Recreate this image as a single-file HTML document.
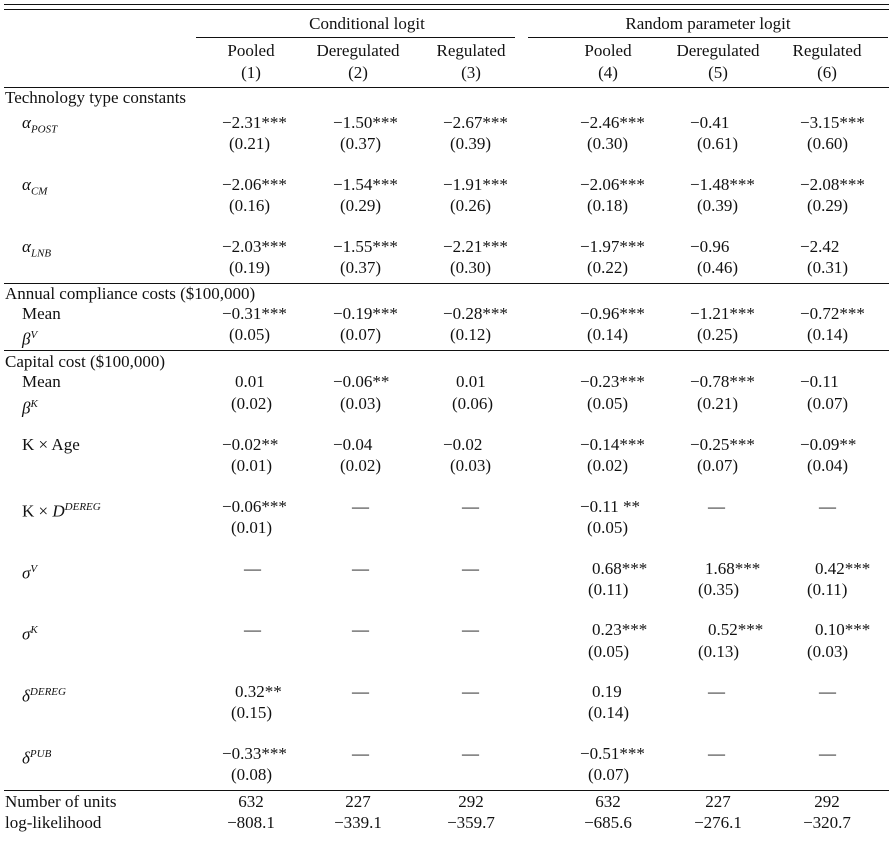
<!DOCTYPE html>
<html><head><meta charset="utf-8"><style>
body{margin:0;width:892px;height:843px;background:#fff;position:relative;overflow:hidden;font-family:"Liberation Serif",serif;font-size:17px;color:#111}
div{position:absolute;white-space:nowrap;line-height:20px}
.r{position:absolute;height:1px;background:#111}
sub,sup{font-size:11px;font-style:italic}
i{font-style:italic}
.c{text-align:center;width:120px}
</style></head><body>
<div class="r" style="left:4px;top:4px;width:885px"></div>
<div class="r" style="left:4px;top:9px;width:885px"></div>
<div class="c" style="left:307px;top:14px;width:120px">Conditional logit</div>
<div class="c" style="left:598px;top:14px;width:220px">Random parameter logit</div>
<div class="r" style="left:196px;top:37px;width:319px"></div>
<div class="r" style="left:528px;top:37px;width:360px"></div>
<div class="c" style="left:191px;top:41px">Pooled</div><div class="c" style="left:191px;top:63px">(1)</div>
<div class="c" style="left:298px;top:41px">Deregulated</div><div class="c" style="left:298px;top:63px">(2)</div>
<div class="c" style="left:411px;top:41px">Regulated</div><div class="c" style="left:411px;top:63px">(3)</div>
<div class="c" style="left:548px;top:41px">Pooled</div><div class="c" style="left:548px;top:63px">(4)</div>
<div class="c" style="left:658px;top:41px">Deregulated</div><div class="c" style="left:658px;top:63px">(5)</div>
<div class="c" style="left:767px;top:41px">Regulated</div><div class="c" style="left:767px;top:63px">(6)</div>
<div class="r" style="left:4px;top:87px;width:885px"></div>

<div style="left:5px;top:88px">Technology type constants</div>
<div style="left:22px;top:113px"><i>α</i><sub>POST</sub></div>
<div style="left:222px;top:113px">−2.31***</div><div style="left:229px;top:134px">(0.21)</div>
<div style="left:333px;top:113px">−1.50***</div><div style="left:340px;top:134px">(0.37)</div>
<div style="left:443px;top:113px">−2.67***</div><div style="left:450px;top:134px">(0.39)</div>
<div style="left:580px;top:113px">−2.46***</div><div style="left:587px;top:134px">(0.30)</div>
<div style="left:690px;top:113px">−0.41</div><div style="left:697px;top:134px">(0.61)</div>
<div style="left:800px;top:113px">−3.15***</div><div style="left:807px;top:134px">(0.60)</div>

<div style="left:22px;top:175px"><i>α</i><sub>CM</sub></div>
<div style="left:222px;top:175px">−2.06***</div><div style="left:229px;top:196px">(0.16)</div>
<div style="left:333px;top:175px">−1.54***</div><div style="left:340px;top:196px">(0.29)</div>
<div style="left:443px;top:175px">−1.91***</div><div style="left:450px;top:196px">(0.26)</div>
<div style="left:580px;top:175px">−2.06***</div><div style="left:587px;top:196px">(0.18)</div>
<div style="left:690px;top:175px">−1.48***</div><div style="left:697px;top:196px">(0.39)</div>
<div style="left:800px;top:175px">−2.08***</div><div style="left:807px;top:196px">(0.29)</div>

<div style="left:22px;top:237px"><i>α</i><sub>LNB</sub></div>
<div style="left:222px;top:237px">−2.03***</div><div style="left:229px;top:258px">(0.19)</div>
<div style="left:333px;top:237px">−1.55***</div><div style="left:340px;top:258px">(0.37)</div>
<div style="left:443px;top:237px">−2.21***</div><div style="left:450px;top:258px">(0.30)</div>
<div style="left:580px;top:237px">−1.97***</div><div style="left:587px;top:258px">(0.22)</div>
<div style="left:690px;top:237px">−0.96</div><div style="left:697px;top:258px">(0.46)</div>
<div style="left:800px;top:237px">−2.42</div><div style="left:807px;top:258px">(0.31)</div>
<div class="r" style="left:4px;top:283px;width:885px"></div>

<div style="left:5px;top:284px">Annual compliance costs ($100,000)</div>
<div style="left:22px;top:304px">Mean</div>
<div style="left:22px;top:325px"><i>β</i><sup>V</sup></div>
<div style="left:222px;top:304px">−0.31***</div><div style="left:229px;top:325px">(0.05)</div>
<div style="left:333px;top:304px">−0.19***</div><div style="left:340px;top:325px">(0.07)</div>
<div style="left:443px;top:304px">−0.28***</div><div style="left:450px;top:325px">(0.12)</div>
<div style="left:580px;top:304px">−0.96***</div><div style="left:587px;top:325px">(0.14)</div>
<div style="left:690px;top:304px">−1.21***</div><div style="left:697px;top:325px">(0.25)</div>
<div style="left:800px;top:304px">−0.72***</div><div style="left:807px;top:325px">(0.14)</div>
<div class="r" style="left:4px;top:350px;width:885px"></div>

<div style="left:5px;top:352px">Capital cost ($100,000)</div>
<div style="left:22px;top:372px">Mean</div>
<div style="left:22px;top:394px"><i>β</i><sup>K</sup></div>
<div style="left:235px;top:372px">0.01</div><div style="left:231px;top:394px">(0.02)</div>
<div style="left:333px;top:372px">−0.06**</div><div style="left:340px;top:394px">(0.03)</div>
<div style="left:456px;top:372px">0.01</div><div style="left:452px;top:394px">(0.06)</div>
<div style="left:580px;top:372px">−0.23***</div><div style="left:587px;top:394px">(0.05)</div>
<div style="left:690px;top:372px">−0.78***</div><div style="left:697px;top:394px">(0.21)</div>
<div style="left:800px;top:372px">−0.11</div><div style="left:807px;top:394px">(0.07)</div>

<div style="left:22px;top:435px">K × Age</div>
<div style="left:222px;top:435px">−0.02**</div><div style="left:231px;top:456px">(0.01)</div>
<div style="left:333px;top:435px">−0.04</div><div style="left:340px;top:456px">(0.02)</div>
<div style="left:443px;top:435px">−0.02</div><div style="left:450px;top:456px">(0.03)</div>
<div style="left:580px;top:435px">−0.14***</div><div style="left:587px;top:456px">(0.02)</div>
<div style="left:690px;top:435px">−0.25***</div><div style="left:697px;top:456px">(0.07)</div>
<div style="left:800px;top:435px">−0.09**</div><div style="left:807px;top:456px">(0.04)</div>

<div style="left:22px;top:497px">K × <i>D</i><sup>DEREG</sup></div>
<div style="left:222px;top:497px">−0.06***</div><div style="left:231px;top:518px">(0.01)</div>
<div style="left:352px;top:497px">—</div><div style="left:462px;top:497px">—</div>
<div style="left:580px;top:497px">−0.11 **</div><div style="left:587px;top:518px">(0.05)</div>
<div style="left:708px;top:497px">—</div><div style="left:819px;top:497px">—</div>

<div style="left:22px;top:559px"><i>σ</i><sup>V</sup></div>
<div style="left:244px;top:559px">—</div><div style="left:352px;top:559px">—</div><div style="left:462px;top:559px">—</div>
<div style="left:592px;top:559px">0.68***</div><div style="left:588px;top:580px">(0.11)</div>
<div style="left:705px;top:559px">1.68***</div><div style="left:698px;top:580px">(0.35)</div>
<div style="left:815px;top:559px">0.42***</div><div style="left:807px;top:580px">(0.11)</div>

<div style="left:22px;top:620px"><i>σ</i><sup>K</sup></div>
<div style="left:244px;top:620px">—</div><div style="left:352px;top:620px">—</div><div style="left:462px;top:620px">—</div>
<div style="left:592px;top:620px">0.23***</div><div style="left:588px;top:642px">(0.05)</div>
<div style="left:708px;top:620px">0.52***</div><div style="left:698px;top:642px">(0.13)</div>
<div style="left:815px;top:620px">0.10***</div><div style="left:807px;top:642px">(0.03)</div>

<div style="left:22px;top:682px"><i>δ</i><sup>DEREG</sup></div>
<div style="left:235px;top:682px">0.32**</div><div style="left:231px;top:703px">(0.15)</div>
<div style="left:352px;top:682px">—</div><div style="left:462px;top:682px">—</div>
<div style="left:592px;top:682px">0.19</div><div style="left:588px;top:703px">(0.14)</div>
<div style="left:708px;top:682px">—</div><div style="left:819px;top:682px">—</div>

<div style="left:22px;top:744px"><i>δ</i><sup>PUB</sup></div>
<div style="left:222px;top:744px">−0.33***</div><div style="left:231px;top:765px">(0.08)</div>
<div style="left:352px;top:744px">—</div><div style="left:462px;top:744px">—</div>
<div style="left:580px;top:744px">−0.51***</div><div style="left:588px;top:765px">(0.07)</div>
<div style="left:708px;top:744px">—</div><div style="left:819px;top:744px">—</div>
<div class="r" style="left:4px;top:790px;width:885px"></div>

<div style="left:5px;top:792px">Number of units</div>
<div style="left:5px;top:813px">log-likelihood</div>
<div class="c" style="left:191px;top:792px">632</div><div class="c" style="left:191px;top:813px">−808.1</div>
<div class="c" style="left:298px;top:792px">227</div><div class="c" style="left:298px;top:813px">−339.1</div>
<div class="c" style="left:411px;top:792px">292</div><div class="c" style="left:411px;top:813px">−359.7</div>
<div class="c" style="left:548px;top:792px">632</div><div class="c" style="left:548px;top:813px">−685.6</div>
<div class="c" style="left:658px;top:792px">227</div><div class="c" style="left:658px;top:813px">−276.1</div>
<div class="c" style="left:767px;top:792px">292</div><div class="c" style="left:767px;top:813px">−320.7</div>
</body></html>
